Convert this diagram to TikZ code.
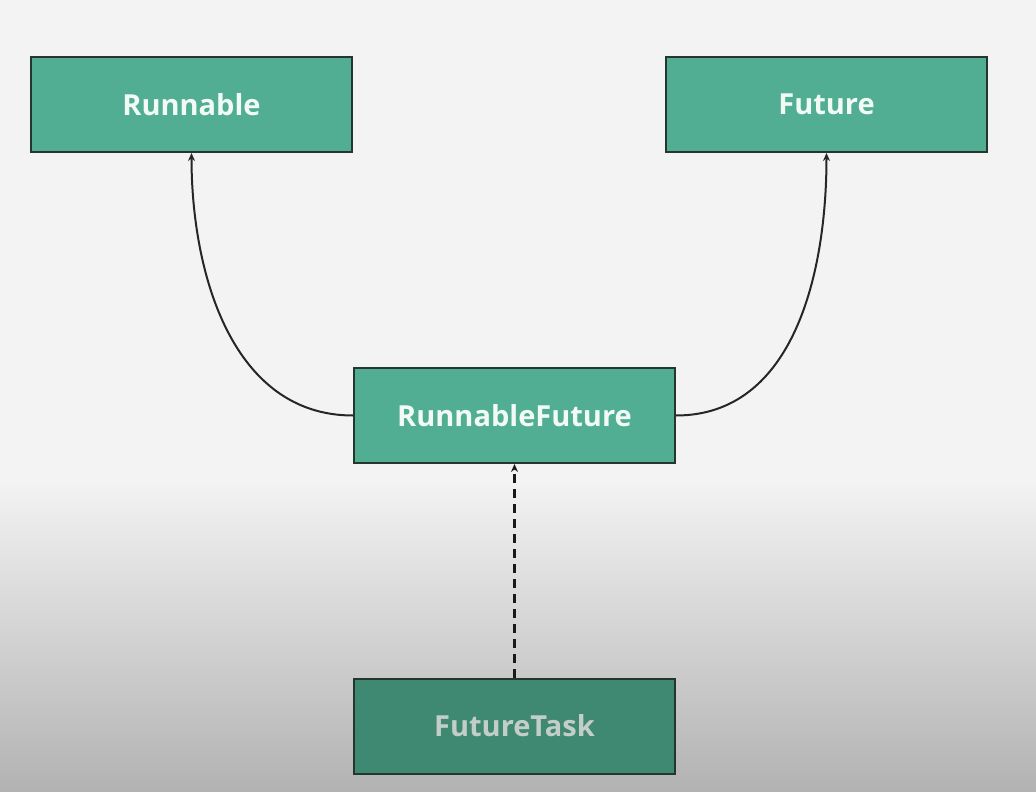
\documentclass[tikz,border=0pt]{standalone}
\usepackage{fontspec}
\setmainfont{Open Sans}
\usepackage{xcolor}
\usepackage{tikz}
\usetikzlibrary{arrows.meta}
\usetikzlibrary{shapes,arrows,positioning}

\definecolor{bgtop}{HTML}{F3F3F3}
\definecolor{bgbot}{HTML}{B2B2B2}
\definecolor{boxfill}{HTML}{52AE93}
\definecolor{boxdark}{HTML}{3F8872}
\definecolor{boxline}{HTML}{25362F}
\definecolor{textlight}{HTML}{F2FAF6}
\definecolor{textdim}{HTML}{C3CEC9}

\tikzset{
  iface/.style={draw=boxline, line width=2pt, fill=boxfill, minimum width=321pt,
    minimum height=95pt, inner sep=0pt, text=textlight,
    font=\fontsize{29}{34}\selectfont\bfseries},
  impl/.style={iface, fill=boxdark, text=textdim},
  link/.style={line width=2pt, draw=black!85, ->}
}

\begin{document}
\begin{tikzpicture}[x=1pt, y=-1pt, >={Stealth[length=8pt,width=7pt]}]
            % the background
            \useasboundingbox (0,0) rectangle (1036,792);
            \fill[bgtop] (0,0) rectangle (1036,481);
            \shade[top color=bgtop, bottom color=bgbot] (0,480) rectangle (1036,792);

            % the boxes
            \node[iface] (runnable) at (191.5,104.5) {Runnable};
            \node[iface] (future) at (826.5,104.5) {Future};
            \node[iface] (runfuture) at (514.5,415.5) {RunnableFuture};
            \node[impl] (futuretask) at (514.5,726) {FutureTask};

            % the arrows
            \draw[link] (runfuture.west) to[out=180, in=-90] (runnable.south);
            \draw[link] (runfuture.east) to[out=0, in=-90] (future.south);
            \draw[link, line width=2.4pt, draw=black!90, dash pattern=on 9pt off 6pt] (futuretask.north) -- (runfuture.south);
        \end{tikzpicture}
\end{document}
